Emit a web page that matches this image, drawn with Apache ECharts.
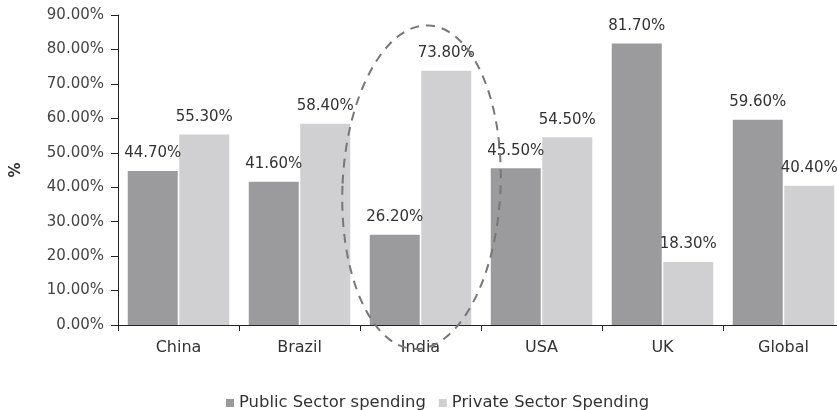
<!DOCTYPE html>
<html>
<head>
<meta charset="utf-8">
<script src="https://cdn.jsdelivr.net/npm/echarts@6/dist/echarts.min.js"></script>
<style>
html,body{margin:0;padding:0;background:#fff;overflow:hidden;}
#chart{width:850px;height:410px;}
</style>
</head>
<body>
<div id="chart"></div>
<script>
const categories = ['China', 'Brazil', 'India', 'USA', 'UK', 'Global'];
const publicSpending = [44.7, 41.6, 26.2, 45.5, 81.7, 59.6];
const privateSpending = [55.3, 58.4, 73.8, 54.5, 18.3, 40.4];
const seriesNames = ['Public Sector spending', 'Private Sector Spending'];
const yMin = 0, yMax = 90, yStep = 10;
const highlightCategory = 'India';

const FONT = 'DejaVu Sans';
const chart = echarts.init(document.getElementById('chart'));

const labelCfg = {
  show: true,
  position: 'top',
  distance: 10,
  fontFamily: FONT,
  fontSize: 15,
  color: '#333',
  formatter: p => p.value.toFixed(2) + '%'
};

chart.setOption({
  animation: false,
  backgroundColor: '#fff',
  grid: { left: 118, top: 15, width: 726, height: 310, containLabel: false },
  legend: {
    data: seriesNames,
    top: 390,
    left: 221,
    icon: 'rect',
    itemWidth: 8,
    itemHeight: 8,
    itemGap: 13,
    textStyle: { fontFamily: FONT, fontSize: 16.4, color: '#333' }
  },
  xAxis: {
    type: 'category',
    data: categories,
    axisLine: { lineStyle: { color: '#222', width: 1 } },
    axisTick: { show: true, length: 6, lineStyle: { color: '#222' } },
    axisLabel: { fontFamily: FONT, fontSize: 16, color: '#333', margin: 15 }
  },
  yAxis: {
    type: 'value',
    min: yMin,
    max: yMax,
    interval: yStep,
    name: '%',
    nameLocation: 'middle',
    nameGap: 94,
    nameRotate: 90,
    nameMoveOverlap: false,
    nameTextStyle: { fontFamily: FONT, fontSize: 15, color: '#333', fontWeight: 'bold' },
    axisLine: { show: true, lineStyle: { color: '#222', width: 1 } },
    axisTick: { show: true, length: 7, lineStyle: { color: '#222' } },
    splitLine: { show: false },
    axisLabel: {
      fontFamily: FONT, fontSize: 15, color: '#444', margin: 14,
      formatter: v => v.toFixed(2) + '%'
    }
  },
  series: [
    {
      name: seriesNames[0],
      type: 'bar',
      data: publicSpending,
      barWidth: 50,
      barGap: '3%',
      itemStyle: { color: '#9b9b9d' },
      label: labelCfg
    },
    {
      name: seriesNames[1],
      type: 'bar',
      data: privateSpending,
      barWidth: 50,
      barGap: '3%',
      itemStyle: { color: '#d0d0d2' },
      label: labelCfg
    }
  ]
});

// Dashed ellipse annotation around the highlighted category, anchored via the axes
const ctr = chart.convertToPixel({ xAxisIndex: 0, yAxisIndex: 0 }, [highlightCategory, 40]);
const topPt = chart.convertToPixel({ xAxisIndex: 0, yAxisIndex: 0 }, [highlightCategory, 94]);
const botPt = chart.convertToPixel({ xAxisIndex: 0, yAxisIndex: 0 }, [highlightCategory, 0]);
const ry = (botPt[1] - topPt[1]) / 2;
chart.setOption({
  graphic: [{
    type: 'ellipse',
    x: ctr[0] + 1,
    y: ctr[1],
    rotation: -0.045,
    shape: { cx: 0, cy: 0, rx: 79, ry: ry },
    style: { fill: 'none', stroke: '#777', lineWidth: 2, lineDash: [9, 7] },
    z: 100
  }]
});
</script>
</body>
</html>
